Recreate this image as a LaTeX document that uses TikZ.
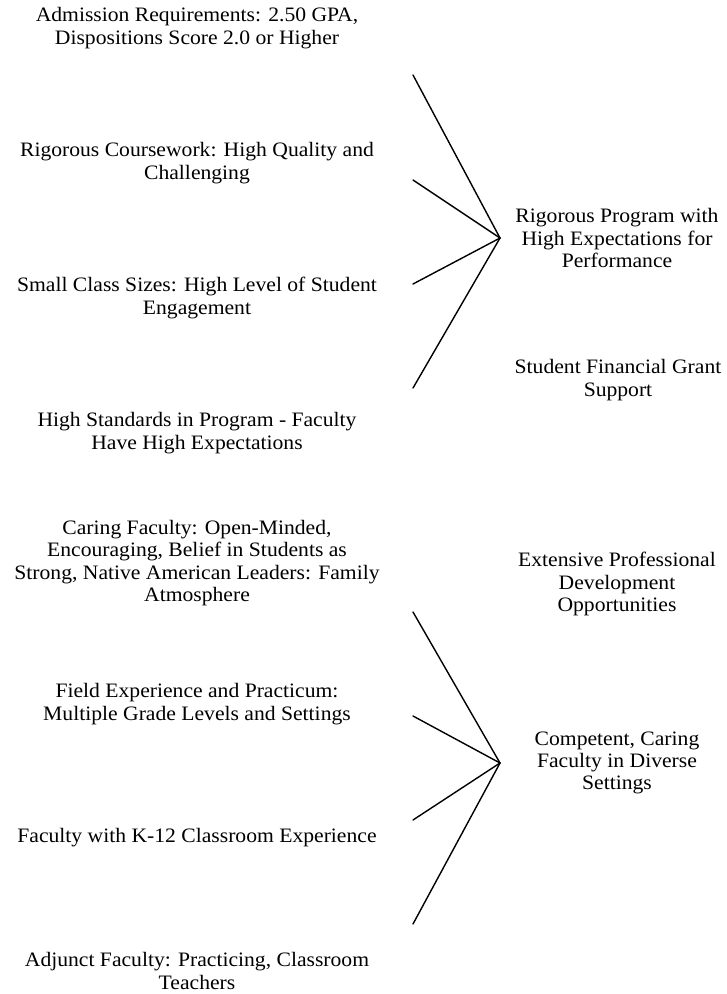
\documentclass[tikz,border=0pt]{standalone}
\usepackage{fontspec}
\setmainfont{Liberation Serif}[FakeStretch=1.055]
\begin{document}
\begin{tikzpicture}[x=1pt,y=-1pt,
  lbl/.style={align=center,inner sep=0pt,font=\fontsize{20.5}{22.3}\selectfont},
  link/.style={line width=1.4pt,line cap=round}]
\useasboundingbox (0,0) rectangle (727,994);
% left labels
\node[lbl] (adm) at (197,28) {Admission Requirements: 2.50 GPA,\\Dispositions Score 2.0 or Higher};
\node[lbl] (rc) at (197,163) {Rigorous Coursework: High Quality and\\Challenging};
\node[lbl] (scs) at (197,298) {Small Class Sizes: High Level of Student\\Engagement};
\node[lbl] (hs) at (197,433) {High Standards in Program - Faculty\\Have High Expectations};
\node[lbl] (cf) at (197,563) {Caring Faculty: Open-Minded,\\Encouraging, Belief in Students as\\Strong, Native American Leaders: Family\\Atmosphere};
\node[lbl] (fe) at (197,704) {Field Experience and Practicum:\\Multiple Grade Levels and Settings};
\node[lbl] (fk) at (197,838) {Faculty with K-12 Classroom Experience};
\node[lbl] (af) at (197,971) {Adjunct Faculty: Practicing, Classroom\\Teachers};
% right labels
\node[lbl] (rp) at (617,238) {Rigorous Program with\\High Expectations for\\Performance};
\node[lbl] (sfg) at (618,380) {Student Financial Grant\\Support};
\node[lbl] (epd) at (617,584) {Extensive Professional\\Development\\Opportunities};
\node[lbl] (ccf) at (617,763) {Competent, Caring\\Faculty in Diverse\\Settings};
% connector points
\coordinate (a1) at (500,238);
\coordinate (t1) at (413,75);
\coordinate (t2) at (413,180);
\coordinate (t3) at (413,284);
\coordinate (t4) at (413,388);
\coordinate (a2) at (500,763);
\coordinate (b1) at (413,612);
\coordinate (b2) at (413,716);
\coordinate (b3) at (413,820);
\coordinate (b4) at (413,924);
\foreach \e in {t1,t2,t3,t4} \draw[link] (a1) -- (\e);
\foreach \e in {b1,b2,b3,b4} \draw[link] (a2) -- (\e);
\end{tikzpicture}
\end{document}
